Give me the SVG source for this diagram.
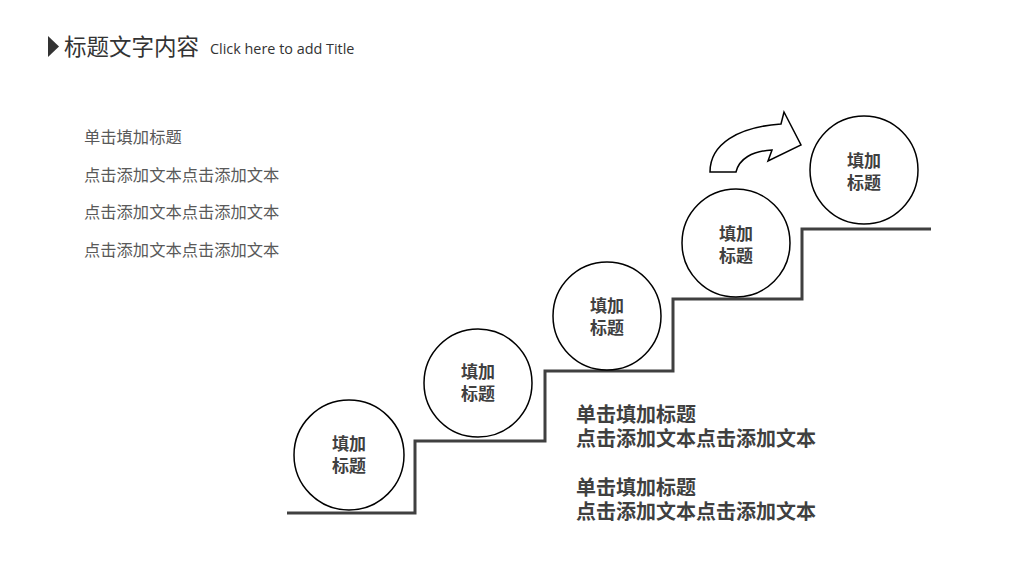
<svg xmlns="http://www.w3.org/2000/svg" width="1024" height="576" viewBox="0 0 1024 576">
<style>
.cjk{font-family:"Noto Sans CJK SC","Noto Sans",sans-serif;}
.circ{fill:#fff;stroke:#000;stroke-width:1.5;}
.ct{font-family:"Noto Sans CJK SC",sans-serif;font-size:17px;font-weight:bold;fill:#404040;text-anchor:middle;}
.lt{font-family:"Noto Sans CJK SC",sans-serif;font-size:16.3px;fill:#595959;}
.bt{font-family:"Noto Sans CJK SC",sans-serif;font-size:20px;font-weight:bold;fill:#404040;}
</style>
<rect width="1024" height="576" fill="#fff"/>
<g id="title">
<polygon points="48,36 59,46.5 48,57" fill="#333"/>
<text x="64" y="55" class="cjk" font-size="22.5" fill="#333">标题文字内容</text>
<text x="210" y="54" font-family="Open Sans, Noto Sans, sans-serif" font-size="14.4" fill="#333">Click here to add Title</text>
</g>
<g id="left-text">
<text x="84" y="143" class="lt">单击填加标题</text>
<text x="84" y="181" class="lt">点击添加文本点击添加文本</text>
<text x="84" y="218" class="lt">点击添加文本点击添加文本</text>
<text x="84" y="256" class="lt">点击添加文本点击添加文本</text>
</g>
<g id="connectors">
<polyline points="287,513 415,513 415,441 545,441 545,371 673,371 673,299 802,299 802,229 931,229" fill="none" stroke="#404040" stroke-width="3"/>
</g>
<g id="arrow">
<path d="M710,172 C710,144 738,127 781,124 L784,112 L801,145 L768,161 L772,150 C752,151 739,159 736,172 Z" fill="#fff" stroke="#000" stroke-width="1.5" stroke-linejoin="miter"/>
</g>
<g id="node1"><circle cx="349" cy="455" r="55" class="circ"/><text x="349" y="450" class="ct">填加</text><text x="349" y="472" class="ct">标题</text></g>
<g id="node2"><circle cx="478" cy="383" r="54" class="circ"/><text x="478" y="378" class="ct">填加</text><text x="478" y="400" class="ct">标题</text></g>
<g id="node3"><circle cx="607" cy="316" r="54" class="circ"/><text x="607" y="312" class="ct">填加</text><text x="607" y="334" class="ct">标题</text></g>
<g id="node4"><circle cx="736" cy="243" r="54" class="circ"/><text x="736" y="240" class="ct">填加</text><text x="736" y="262" class="ct">标题</text></g>
<g id="node5"><circle cx="864" cy="170" r="54" class="circ"/><text x="864" y="167" class="ct">填加</text><text x="864" y="189" class="ct">标题</text></g>
<g id="right-text">
<text x="576" y="422" class="bt">单击填加标题</text>
<text x="576" y="446" class="bt">点击添加文本点击添加文本</text>
<text x="576" y="495" class="bt">单击填加标题</text>
<text x="576" y="519" class="bt">点击添加文本点击添加文本</text>
</g>
</svg>
